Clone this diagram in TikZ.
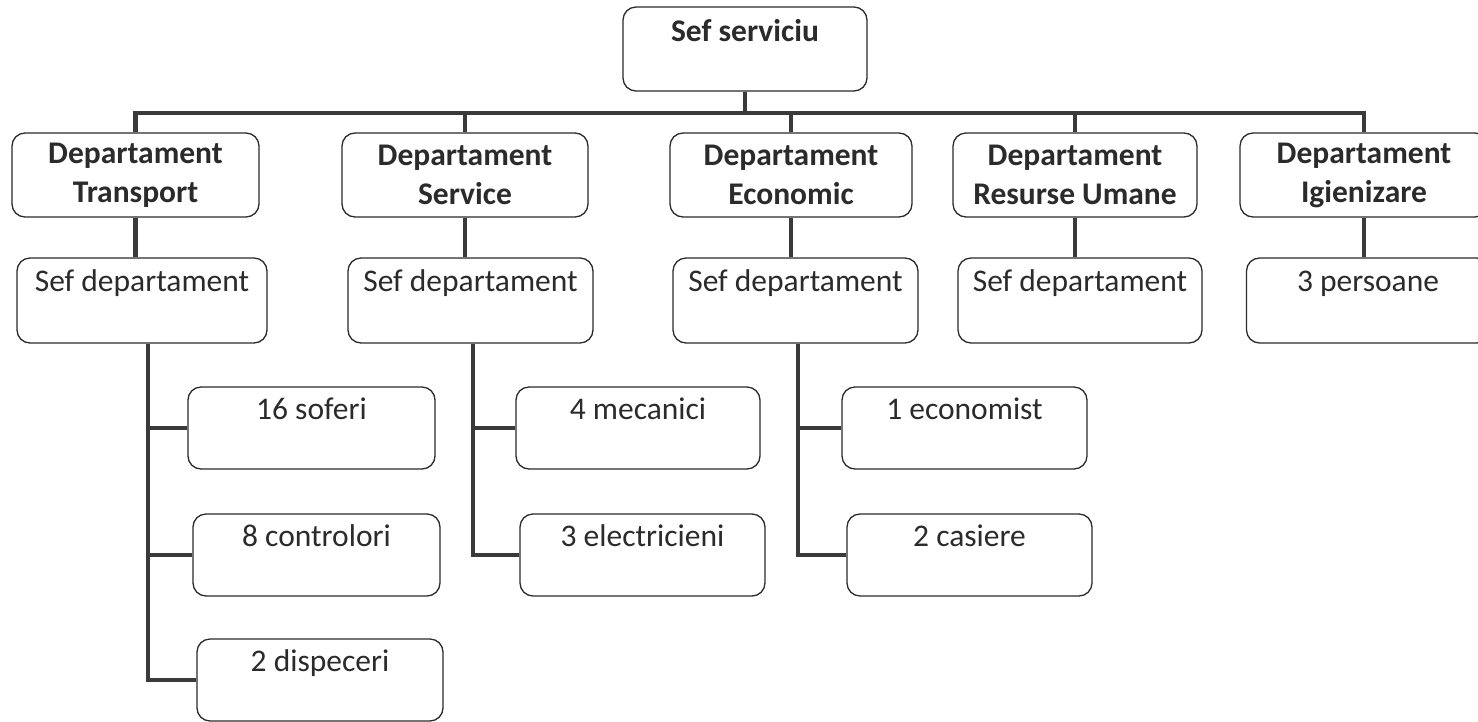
\documentclass[tikz,border=0pt]{standalone}
\usepackage{fontspec}
\setmainfont{Carlito}
\definecolor{ink}{HTML}{2B2B2B}
\definecolor{wire}{HTML}{3A3A3A}
\begin{document}
\begin{tikzpicture}[x=1pt,y=-1pt,
  boxbase/.style={draw=ink,line width=1.3pt,rounded corners=13pt,inner xsep=0pt,inner ysep=0pt,text=ink},
  topbox/.style={boxbase,font=\bfseries\fontsize{31.5}{39}\selectfont,text height=34pt,text depth=50pt,minimum width=244pt},
  deptbox/.style={boxbase,font=\bfseries\fontsize{31.5}{39}\selectfont,align=center,minimum height=84pt},
  headbox/.style={boxbase,font=\fontsize{31.5}{39}\selectfont,text height=33pt,text depth=52pt},
  staffbox/.style={boxbase,font=\fontsize{31.5}{39}\selectfont,text height=32pt,text depth=50pt},
  conn/.style={draw=wire,line width=4.5pt}]
\useasboundingbox (0,0) rectangle (1478,721);
\fill[white] (0,0) rectangle (1478,721);
\clip (0,0) rectangle (1478,721);

% top
\node[topbox] (top) at (745,49) {Sef serviciu};

% departments
\node[deptbox,minimum width=247pt] (dT) at (135.5,175) {Departament\\Transport};
\node[deptbox,minimum width=246pt] (dS) at (465,175) {Departament\\Service};
\node[deptbox,minimum width=242pt] (dE) at (791,175) {Departament\\Economic};
\node[deptbox,minimum width=244pt] (dR) at (1075,175) {Departament\\Resurse Umane};
\node[deptbox,minimum width=248pt] (dI) at (1364,175) {Departament\\Igienizare};

% heads
\node[headbox,minimum width=250pt] (sT) at (142,300.5) {Sef departament};
\node[headbox,minimum width=245pt] (sS) at (470.5,300.5) {Sef departament};
\node[headbox,minimum width=245pt] (sE) at (795.5,300.5) {Sef departament};
\node[headbox,minimum width=244pt] (sR) at (1080,300.5) {Sef departament};
\node[headbox,minimum width=243pt] (sI) at (1368,300.5) {3 persoane};

% staff
\node[staffbox,minimum width=247pt] (sof) at (311.5,428) {16 soferi};
\node[staffbox,minimum width=247pt] (con) at (316.5,555) {8 controlori};
\node[staffbox,minimum width=246pt] (dis) at (320,680) {2 dispeceri};
\node[staffbox,minimum width=244pt] (mec) at (638,428) {4 mecanici};
\node[staffbox,minimum width=245pt] (ele) at (642.5,555) {3 electricieni};
\node[staffbox,minimum width=245pt] (eco) at (964.5,428) {1 economist};
\node[staffbox,minimum width=245pt] (cas) at (969.5,555) {2 casiere};

% bus
\coordinate (bus) at (0,113);
\coordinate (tx) at (148,0);
\coordinate (sx) at (473,0);
\coordinate (ex) at (798,0);

\draw[conn] (top.south) -- (top.south |- bus);
\draw[conn,line cap=rect] (dT.north |- bus) -- (dI.north |- bus);
\foreach \d in {dT,dS,dE,dR,dI}{
  \draw[conn] (\d.north |- bus) -- (\d.north);
}
\draw[conn] (dT.south) -- (dT.south |- sT.north);
\draw[conn] (dS.south) -- (dS.south |- sS.north);
\draw[conn] (dE.south) -- (dE.south |- sE.north);
\draw[conn] (dR.south) -- (dR.south |- sR.north);
\draw[conn] (dI.south) -- (dI.south |- sI.north);

% transport branches
\draw[conn] (sT.south -| tx) |- (sof.west);
\draw[conn] (sT.south -| tx) |- (con.west);
\draw[conn] (sT.south -| tx) |- (dis.west);
% service branches
\draw[conn] (sS.south -| sx) |- (mec.west);
\draw[conn] (sS.south -| sx) |- (ele.west);
% economic branches
\draw[conn] (sE.south -| ex) |- (eco.west);
\draw[conn] (sE.south -| ex) |- (cas.west);
\end{tikzpicture}
\end{document}
